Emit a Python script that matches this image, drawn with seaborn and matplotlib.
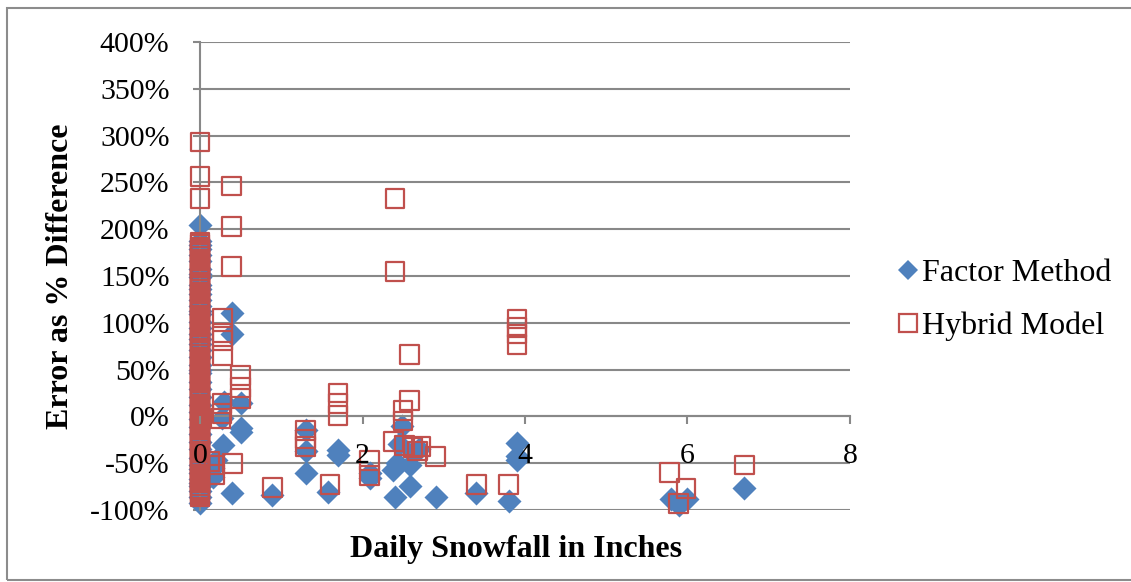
import matplotlib
matplotlib.use("Agg")
import matplotlib.pyplot as plt
import seaborn as sns
import pandas as pd
from matplotlib.lines import Line2D
from matplotlib.patches import Rectangle

sns.set_theme(style="white")
plt.rcParams['font.family'] = ['Liberation Serif', 'DejaVu Serif']
plt.rcParams['text.color'] = 'black'
plt.rcParams['xtick.labelcolor'] = 'black'
plt.rcParams['ytick.labelcolor'] = 'black'

# ---- data ----
# days with zero snowfall (dense stack at x = 0)
factor_zero_y = [205, 187, 183, 179, 172, 166, 158, 152, 149, 140, 136, 131, 124, 118,
                 113, 109, 101, 94, 88, 83, 77, 71, 63, 55, 50, 46, 37, 29, 21, 12,
                 5, -3, -11, -19, -27, -35, -44, -52, -56, -60, -67, -71, -74, -80,
                 -86, -92]
hybrid_zero_y = [293, 256, 233,
                 186, 184, 181, 178, 176, 174, 171, 168, 166, 163, 161, 159, 156, 153,
                 151, 149, 146, 143, 141, 139, 136, 133, 131, 128, 126, 124, 121, 118,
                 116, 114, 111, 108, 106, 104, 101, 98, 96, 93, 91, 89, 86, 83, 81, 79,
                 76, 73, 71, 69, 66, 63, 61, 58, 56, 54, 51, 48, 46, 44, 41, 38, 36,
                 33, 31, 29, 26, 23, 21, 19, 16, 13, 11, 8, 6, 4, 1, -2, -4, -6, -9,
                 -12, -14, -17, -19, -21, -24, -27, -29, -31, -34, -37, -39, -42, -44,
                 -46, -49, -52, -54, -56, -59, -62, -64, -67, -69, -71, -74, -77, -79,
                 -81, -84, -86]

# days with snowfall
factor_x = [0.39, 0.39, 0.30, 0.50, 0.50, 0.50, 0.27, 0.28, 0.16, 0.16, 0.20, 0.39,
            0.89, 1.30, 1.30, 1.30, 1.70, 1.70, 1.58, 2.09, 2.09, 2.40, 2.49, 2.42,
            2.38, 2.45, 2.58, 2.62, 2.58, 2.70, 2.90, 3.40, 3.80, 3.90, 3.90, 3.90,
            5.80, 6.00, 5.90, 6.70]
factor_y = [110, 88, 15, 14, -12, -17, -2, -31, -55, -65, -47, -82,
            -84, -15, -37, -61, -36, -41, -81, -60, -66, -86, -10, -50,
            -57, -30, -52, -38, -74, -35, -86, -82, -90, -28, -42, -47,
            -88, -88, -95, -77]

hybrid_x = [0.39, 0.39, 0.39, 0.28, 0.28, 0.28, 0.28, 0.50, 0.50, 0.50, 0.27, 0.27,
            0.25, 0.40, 0.18, 0.18, 0.12, 0.89, 1.30, 1.30, 1.30, 1.60, 1.70, 1.70,
            1.70, 2.09, 2.09, 2.40, 2.40, 2.50, 2.58, 2.58, 2.50, 2.38, 2.52, 2.62,
            2.68, 2.72, 2.90, 3.40, 3.80, 3.90, 3.90, 3.90, 3.90, 5.78, 5.98, 5.89,
            6.70]
hybrid_y = [246, 203, 160, 105, 89, 81, 65, 44, 31, 19, 14, 3,
            -2, -50, -52, -62, -48, -76, -15, -24, -32, -73, 25, 14,
            1, -47, -63, 233, 155, 6, 17, 66, -5, -27, -31, -33,
            -37, -32, -43, -73, -73, 104, 95, 88, 77, -60, -77, -93,
            -52]

x_ticks = [0, 2, 4, 6, 8]
y_ticks = [-100, -50, 0, 50, 100, 150, 200, 250, 300, 350, 400]
y_tick_labels = [f"{v}%" for v in y_ticks]
series_names = ["Factor Method", "Hybrid Model"]

blue = "#4F81BD"
red = "#C0504D"
grid_gray = "#888888"

factor_df = pd.DataFrame({"x": [0.0] * len(factor_zero_y) + factor_x,
                          "y": factor_zero_y + factor_y})
hybrid_df = pd.DataFrame({"x": [0.0] * len(hybrid_zero_y) + hybrid_x,
                          "y": hybrid_zero_y + hybrid_y})

W, H = 1131, 582
fig = plt.figure(figsize=(W / 100, H / 100), dpi=100)
ax = fig.add_axes([200 / W, 1 - 510 / H, 650 / W, 468 / H])

sns.scatterplot(data=factor_df, x="x", y="y", ax=ax, marker="D", s=150,
                color=blue, edgecolor=blue, linewidth=0, clip_on=False, zorder=2, legend=False)
sns.scatterplot(data=hybrid_df, x="x", y="y", ax=ax, marker="s", s=180,
                facecolor="none", edgecolor=red, linewidth=1.6, clip_on=False, zorder=3, legend=False)

ax.set_xlim(0, 8)
ax.set_ylim(-100, 400)
ax.set_xticks(x_ticks)
ax.set_xticklabels([str(v) for v in x_ticks])
ax.set_yticks(y_ticks)
ax.set_yticklabels(y_tick_labels)
ax.yaxis.grid(True, color=grid_gray, linewidth=1.5)
ax.xaxis.grid(False)
ax.set_axisbelow(True)
# x tick labels are drawn over the markers (as in the reference), y gridlines below
ax.xaxis.set_zorder(5)

for side in ["top", "right"]:
    ax.spines[side].set_visible(False)
ax.spines["bottom"].set_position(("data", 0))
ax.spines["bottom"].set_color(grid_gray)
ax.spines["bottom"].set_linewidth(1.5)
ax.spines["left"].set_color(grid_gray)
ax.spines["left"].set_linewidth(1.5)

ax.tick_params(axis="x", direction="out", length=6, width=1.5, color=grid_gray,
               labelsize=21.5, pad=13, bottom=True, labelcolor="black")
ax.tick_params(axis="y", direction="out", length=5, width=1.5, color=grid_gray,
               labelsize=21.5, pad=17, left=True, labelcolor="black")
ax.set_xlabel("")
ax.set_ylabel("")

fig.text(61 / W, 1 - 276 / H, "Error as % Difference", rotation=90, ha="center",
         va="center", fontsize=23, fontweight="bold", color="black")
fig.text(516 / W, 1 - 557 / H, "Daily Snowfall in Inches", ha="center",
         va="baseline", fontsize=23, fontweight="bold", color="black")

handles = [
    Line2D([], [], marker="D", linestyle="none", markersize=10.2, markerfacecolor=blue,
           markeredgecolor=blue, markeredgewidth=0),
    Line2D([], [], marker="s", linestyle="none", markersize=12.8, markerfacecolor="none",
           markeredgecolor=red, markeredgewidth=1.6),
]
fig.legend(handles, series_names, loc="center left",
           bbox_to_anchor=(895 / W, 1 - 300 / H), frameon=False, fontsize=23,
           handletextpad=0.05, labelspacing=0.72, handlelength=0.8, borderpad=0,
           borderaxespad=0, labelcolor="black")

fig.patches.append(Rectangle((7 / W, 2 / H), 1.2, (H - 10) / H, transform=fig.transFigure,
                             fill=False, edgecolor="#8C8C8C", linewidth=1.5))

fig.savefig("out.png", dpi=100)
